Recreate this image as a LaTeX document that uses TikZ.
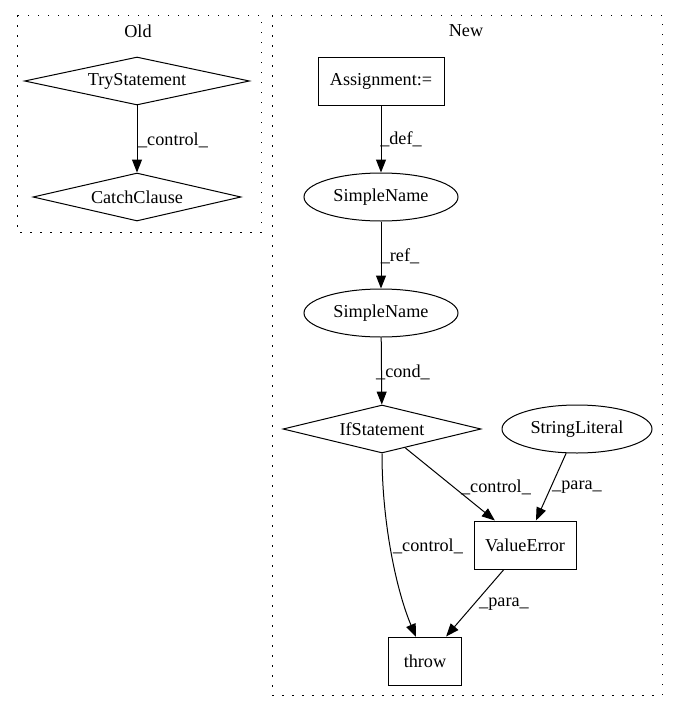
\documentclass[tikz,border=0pt]{standalone}
\usepackage{fontspec}
\setmainfont{Liberation Serif}
\usetikzlibrary{shapes.geometric,arrows.meta}
\begin{document}
\begin{tikzpicture}[x=1pt,y=-1pt,
  every node/.style={font=\fontsize{18.2}{21}\selectfont},
  base/.style={draw,line width=1pt,inner sep=0pt,minimum height=48pt},
  dia/.style={base,diamond,aspect=4},
  box/.style={base,rectangle},
  ell/.style={base,ellipse},
  cluster/.style={draw,line width=1pt,dash pattern=on 1.5pt off 8.5pt},
  edge/.style={draw,line width=1pt,-{Triangle[length=13pt,width=10pt]}},
  lbl/.style={inner sep=0pt}]
\useasboundingbox (0,0) rectangle (679,712);
% clusters
\draw[cluster] (17,15) rectangle (261,232);
\draw[cluster] (272,15) rectangle (662,695);
\node[lbl] (oldlbl) at (138,31) {Old};
\node[lbl] (newlbl) at (466,31) {New};
% Old nodes
\node[dia,minimum width=225pt] (try) at (137,81) {TryStatement};
\node[dia,minimum width=208pt] (catch) at (137,197) {CatchClause};
% New nodes
\node[box,minimum width=126pt] (assign) at (381,81) {Assignment:=};
\node[ell,minimum width=154pt] (sn1) at (381,197) {SimpleName};
\node[ell,minimum width=154pt] (sn2) at (381,313) {SimpleName};
\node[dia,minimum width=198pt] (if) at (382,429) {IfStatement};
\node[ell,minimum width=150pt] (sl) at (577,429) {StringLiteral};
\node[box,minimum width=102pt] (ve) at (525,545) {ValueError};
\node[box,minimum width=73pt] (throw) at (425,661) {throw};
\coordinate (throwin) at (416,637);
% edges
\draw[edge] (try) -- (catch);
\draw[edge] (assign) -- (sn1);
\draw[edge] (sn1) -- (sn2);
\draw[edge] (sn2) -- (if);
\draw[edge] (if) -- (ve);
\draw[edge] (sl) -- (ve);
\draw[edge] (ve) -- (throw);
\draw[edge] (if.south) .. controls (382,525) and (397,592) .. (throwin);
% edge labels
\node[lbl] (l1) at (173,140) {\_control\_};
\node[lbl] (l2) at (401,139) {\_def\_};
\node[lbl] (l3) at (400,256) {\_ref\_};
\node[lbl] (l4) at (403,372) {\_cond\_};
\node[lbl] (l5) at (496,487) {\_control\_};
\node[lbl] (l6) at (577,487) {\_para\_};
\node[lbl] (l7) at (428,546) {\_control\_};
\node[lbl] (l8) at (504,604) {\_para\_};
\end{tikzpicture}
\end{document}
